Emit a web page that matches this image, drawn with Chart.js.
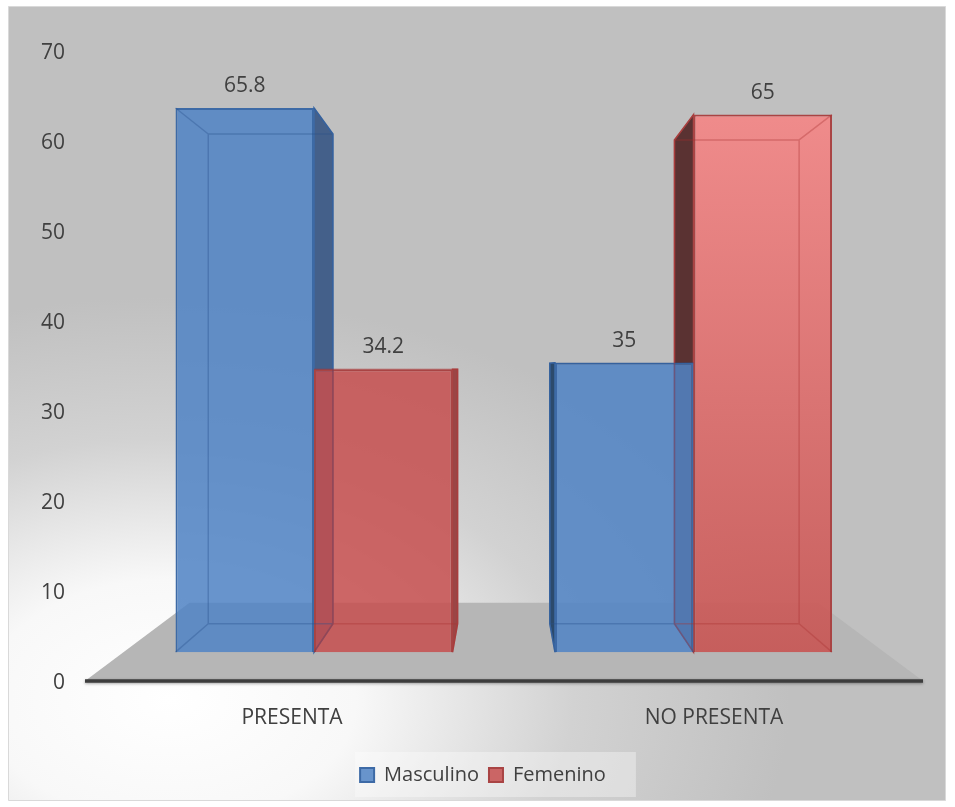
<!DOCTYPE html>
<html>
<head>
<meta charset="utf-8">
<script src="https://cdn.jsdelivr.net/npm/chart.js@4.4.1/dist/chart.umd.min.js"></script>
<style>
    html, body { margin: 0; padding: 0; background: #ffffff; }
</style>
</head>
<body>
<canvas id="myChart" width="955" height="807"></canvas>
<script>
let categorias = ['PRESENTA', 'NO PRESENTA'];
let masculino = [65.8, 35];
let femenino = [34.2, 65];
let ejeY = [0, 10, 20, 30, 40, 50, 60, 70];

// los bloques estan detras del plano de los ejes: se encogen hacia el centro
const PROFUNDIDAD = 0.9;       // cara trasera de cada bloque
const PROFUNDIDAD_PISO = 0.75;  // borde trasero del piso
const TEXTO = '#404040';

Chart.defaults.font.family = "'Open Sans', sans-serif";

function puntos(valores) {
    return valores.map(function (v, i) {
        return { x: i, y: v };
    });
}

function centro(chart) {
    let a = chart.chartArea;
    return { x: (a.left + a.right) / 2, y: (a.top + a.bottom) / 2 };
}

function atras(c, x, y, k) {
    return [c.x + k * (x - c.x), c.y + k * (y - c.y)];
}

function rojoDegradado(context) {
    let chart = context.chart;
    if (context.type !== 'data' || context.dataIndex !== 1 || !chart.chartArea) {
        return 'rgba(198,79,79,0.86)';
    }
    let y = chart.scales.y;
    let g = chart.ctx.createLinearGradient(0, y.getPixelForValue(femenino[1]), 0, y.getPixelForValue(0));
    g.addColorStop(0, 'rgba(246,132,132,0.88)');
    g.addColorStop(1, 'rgba(200,82,80,0.88)');
    return g;
}

const fondo = {
    id: 'fondo',
    beforeDraw: function (chart) {
        let ctx = chart.ctx;
        ctx.save();
        ctx.fillStyle = '#ffffff';
        ctx.fillRect(0, 0, chart.width, chart.height);

        // marco gris con brillo abajo a la izquierda
        let g = ctx.createRadialGradient(0, 0, 0, 0, 0, 620);
        g.addColorStop(0, '#ffffff');
        g.addColorStop(0.3, '#f8f8f8');
        g.addColorStop(0.65, '#d2d2d2');
        g.addColorStop(1, '#c0c0c0');
        ctx.beginPath();
        ctx.rect(8.5, 6.5, 937, 794);
        ctx.save();
        ctx.translate(170, 700);
        ctx.scale(1, 0.65);
        ctx.fillStyle = g;
        ctx.fill();
        ctx.restore();
        ctx.strokeStyle = '#d9d9d9';
        ctx.lineWidth = 1;
        ctx.stroke();

        // caja de la leyenda
        let cajas = chart.legend.legendHitBoxes;
        if (cajas.length) {
            let x0 = Math.min.apply(null, cajas.map(b => b.left));
            let x1 = Math.max.apply(null, cajas.map(b => b.left + b.width));
            let y0 = Math.min.apply(null, cajas.map(b => b.top));
            let y1 = Math.max.apply(null, cajas.map(b => b.top + b.height));
            ctx.fillStyle = 'rgba(255,255,255,0.35)';
            ctx.fillRect(x0 - 5, y0 - 13, x1 - x0 + 35, y1 - y0 + 25);
        }
        ctx.restore();
    }
};

const bloques3d = {
    id: 'bloques3d',
    beforeDatasetsDraw: function (chart) {
        let ctx = chart.ctx;
        let a = chart.chartArea;
        let c = centro(chart);
        let fy = chart.scales.yTicks.getPixelForValue(0) - 2;
        let x0 = a.left + 4, x1 = a.right - 2;
        let t0 = atras(c, x0, fy, PROFUNDIDAD_PISO);
        let t1 = atras(c, x1, fy, PROFUNDIDAD_PISO);

        ctx.save();
        // piso
        ctx.beginPath();
        ctx.moveTo(x0, fy);
        ctx.lineTo(x1, fy);
        ctx.lineTo(t1[0], t1[1]);
        ctx.lineTo(t0[0], t0[1]);
        ctx.closePath();
        ctx.fillStyle = '#b6b6b6';
        ctx.fill();

        ctx.shadowColor = 'rgba(0,0,0,0.35)';
        ctx.shadowBlur = 3;
        ctx.shadowOffsetY = 1;
        ctx.beginPath();
        ctx.moveTo(x0, fy);
        ctx.lineTo(x1, fy);
        ctx.strokeStyle = '#3d3d3d';
        ctx.lineWidth = 3.5;
        ctx.stroke();
        ctx.shadowColor = 'transparent';

        // caras laterales que miran al centro
        chart.data.datasets.forEach(function (ds, i) {
            chart.getDatasetMeta(i).data.forEach(function (el, j) {
                let L = el.x - el.width / 2, R = el.x + el.width / 2;
                let T = el.y, B = el.base;
                let lado = R <= c.x ? R : L;
                let p1 = atras(c, lado, T, PROFUNDIDAD);
                let p2 = atras(c, lado, B, PROFUNDIDAD);
                ctx.beginPath();
                ctx.moveTo(lado, T);
                ctx.lineTo(p1[0], p1[1]);
                ctx.lineTo(p2[0], p2[1]);
                ctx.lineTo(lado, B);
                ctx.closePath();
                ctx.fillStyle = ds.lateral[j];
                ctx.fill();
                ctx.strokeStyle = ds.borderColor;
                ctx.lineWidth = 1.5;
                ctx.stroke();
            });
        });
        ctx.restore();
    },
    afterDatasetsDraw: function (chart) {
        let ctx = chart.ctx;
        let c = centro(chart);
        ctx.save();
        chart.data.datasets.forEach(function (ds, i) {
            chart.getDatasetMeta(i).data.forEach(function (el, j) {
                let L = el.x - el.width / 2, R = el.x + el.width / 2;
                let T = el.y, B = el.base;
                let a = atras(c, L, T, PROFUNDIDAD);
                let b = atras(c, R, B, PROFUNDIDAD);
                // aristas traseras vistas a traves de la cara frontal
                ctx.strokeStyle = ds.aristas;
                ctx.lineWidth = 1.5;
                ctx.beginPath();
                ctx.rect(a[0], a[1], b[0] - a[0], b[1] - a[1]);
                ctx.moveTo(L, T); ctx.lineTo(a[0], a[1]);
                ctx.moveTo(R, T); ctx.lineTo(b[0], a[1]);
                ctx.moveTo(L, B); ctx.lineTo(a[0], b[1]);
                ctx.moveTo(R, B); ctx.lineTo(b[0], b[1]);
                ctx.stroke();

                // etiqueta del valor
                ctx.fillStyle = TEXTO;
                ctx.font = "21px 'Open Sans', sans-serif";
                ctx.textAlign = 'center';
                ctx.textBaseline = 'middle';
                ctx.fillText(String(ds.data[j].y), el.x, T - 22);
            });
        });
        ctx.restore();
    }
};

const ctx = document.getElementById('myChart').getContext('2d');
const myChart = new Chart(ctx, {
    type: 'bar',
    data: {
        labels: categorias,
        datasets: [
            {
                label: 'Masculino',
                data: puntos(masculino),
                backgroundColor: 'rgba(80,132,197,0.86)',
                borderColor: '#3d6aa6',
                borderWidth: 2,
                lateral: ['#44608a', '#2c4a6c'],
                aristas: 'rgba(40,80,140,0.35)',
                xAxisID: 'xBar',
                yAxisID: 'y'
            },
            {
                label: 'Femenino',
                data: puntos(femenino),
                backgroundColor: rojoDegradado,
                borderColor: '#a94444',
                borderWidth: 2,
                lateral: ['#9a4646', '#5a3232'],
                aristas: 'rgba(170,50,50,0.35)',
                xAxisID: 'xBar',
                yAxisID: 'y'
            }
        ]
    },
    options: {
        responsive: false,
        animation: false,
        layout: {
            padding: { left: 41, right: 30, top: 53, bottom: 12 }
        },
        categoryPercentage: 0.73,
        barPercentage: 1,
        plugins: {
            tooltip: { enabled: false },
            legend: {
                position: 'bottom',
                labels: {
                    boxWidth: 14,
                    boxHeight: 14,
                    color: TEXTO,
                    padding: 10,
                    font: { size: 20 }
                }
            }
        },
        scales: {
            x: {
                type: 'category',
                position: 'bottom',
                offset: true,
                grid: { display: false, drawTicks: false },
                border: { display: false },
                ticks: { color: TEXTO, font: { size: 21 }, padding: 22 },
                afterFit: function (s) { s.height = 72; }
            },
            // eje de los bloques: una posicion por categoria
            xBar: {
                type: 'linear',
                display: false,
                offset: false,
                bounds: 'data',
                min: -0.614,
                max: 1.61,
                afterBuildTicks: function (s) {
                    s.ticks = categorias.map((c, i) => ({ value: i }));
                }
            },
            yTicks: {
                type: 'linear',
                position: 'left',
                min: 0,
                max: 70,
                grid: { display: false, drawTicks: false },
                border: { display: false },
                ticks: { color: TEXTO, font: { size: 21 }, padding: 16 },
                afterBuildTicks: function (s) {
                    s.ticks = ejeY.map(v => ({ value: v }));
                },
                afterFit: function (s) { s.width = 40; }
            },
            y: {
                type: 'linear',
                display: false,
                min: -3.73,
                max: 72.45
            }
        }
    },
    plugins: [fondo, bloques3d]
});
</script>
</body>
</html>
